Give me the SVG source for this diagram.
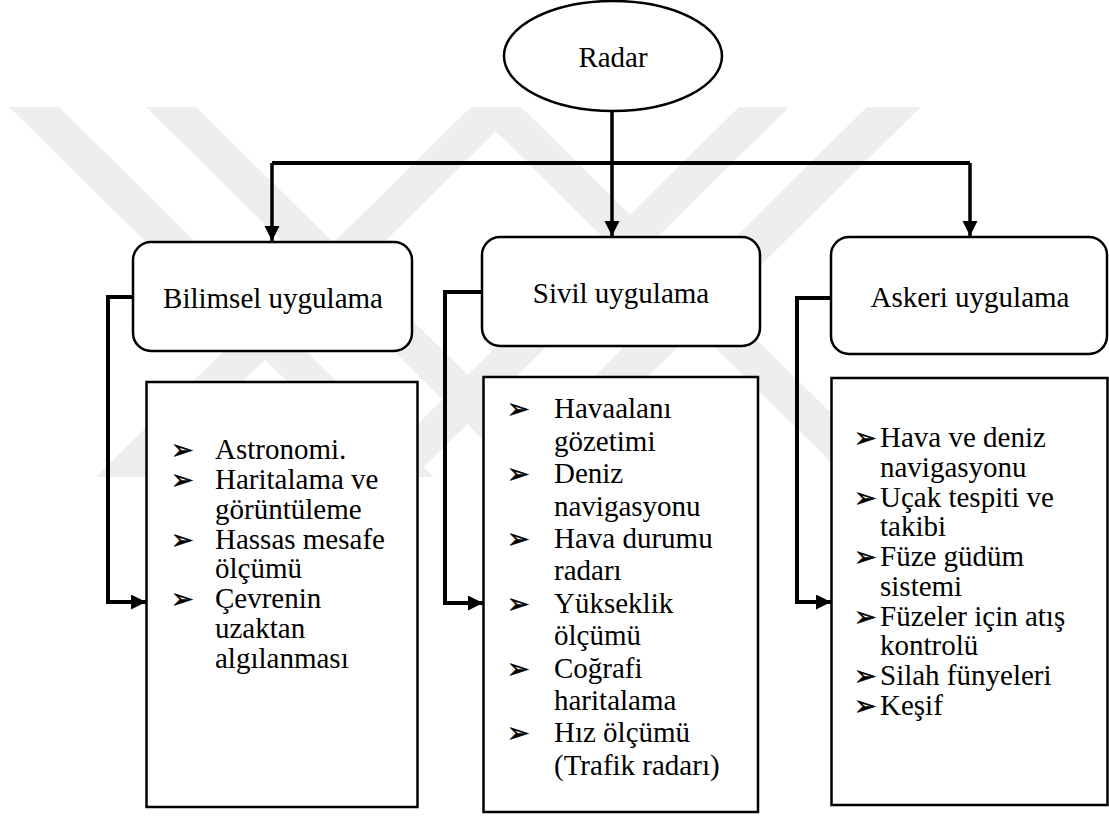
<svg xmlns="http://www.w3.org/2000/svg" width="1109" height="818" viewBox="0 0 1109 818">
  <style>
    .wm { fill: #eeeeee; }
    .shape { fill: #ffffff; stroke: #000000; stroke-width: 2.5; }
    .wire { fill: none; stroke: #000000; stroke-width: 4; }
    .stem { fill: none; stroke: #000000; stroke-width: 3.5; }
    .title { font-family: 'Liberation Serif', 'Times New Roman', serif; font-size: 29px; fill: #000000; text-anchor: middle; }
    .item { font-family: 'Liberation Serif', 'Times New Roman', serif; font-size: 29px; fill: #000000; }
    .bullet { font-family: 'DejaVu Sans', sans-serif; font-size: 27px; fill: #000000; stroke: #000000; stroke-width: 0.6; }
  </style>
  <defs>
    <marker id="arrow" markerUnits="userSpaceOnUse" markerWidth="16" markerHeight="16" refX="15" refY="7.5" orient="auto">
      <path d="M0,0 L15,7.5 L0,15 Z" fill="#000000"/>
    </marker>
    <clipPath id="wmClip">
      <rect x="0" y="107" width="1109" height="370"/>
    </clipPath>
  </defs>

  <rect x="0" y="0" width="1109" height="818" fill="#ffffff"/>

  <!-- faint background emblem: diagonal bars -->
  <g id="emblem" clip-path="url(#wmClip)">
    <polygon class="wm" points="9,107 59,107 434,477 384,477"/>
    <polygon class="wm" points="146,107 196,107 571,477 521,477"/>
    <polygon class="wm" points="471,107 521,107 146,477 96,477"/>
    <polygon class="wm" points="471,107 521,107 896,477 846,477"/>
    <polygon class="wm" points="739,107 789,107 414,477 364,477"/>
    <polygon class="wm" points="867,107 921,107 546,477 492,477"/>
  </g>

  <!-- connectors -->
  <g id="connectors">
    <path class="stem" d="M612,111 V163"/>
    <path class="wire" d="M272,163 H970"/>
    <path class="stem" d="M272,163 V241" marker-end="url(#arrow)"/>
    <path class="stem" d="M612,163 V236" marker-end="url(#arrow)"/>
    <path class="stem" d="M970,163 V236" marker-end="url(#arrow)"/>
    <path class="wire" d="M133,297 H108 V602 H146" marker-end="url(#arrow)"/>
    <path class="wire" d="M482,292 H445 V603 H483" marker-end="url(#arrow)"/>
    <path class="wire" d="M831,298 H797 V602 H831" marker-end="url(#arrow)"/>
  </g>

  <g id="radar">
    <ellipse class="shape" cx="613" cy="56" rx="109" ry="55"/>
    <text class="title" x="613" y="67">Radar</text>
  </g>

  <g id="bilimsel">
    <rect class="shape" x="133" y="242" width="279" height="109" rx="18" ry="18"/>
    <text class="title" x="273" y="308">Bilimsel uygulama</text>
  </g>

  <g id="sivil">
    <rect class="shape" x="482" y="237" width="278" height="109" rx="18" ry="18"/>
    <text class="title" x="621" y="303">Sivil uygulama</text>
  </g>

  <g id="askeri">
    <rect class="shape" x="831" y="237" width="276" height="117" rx="18" ry="18"/>
    <text class="title" x="970" y="307">Askeri uygulama</text>
  </g>

  <g id="bilimsel-list">
    <rect class="shape" x="146.5" y="382" width="271" height="425"/>
    <text class="bullet" x="171" y="459">➢</text>
    <text class="bullet" x="171" y="489">➢</text>
    <text class="bullet" x="171" y="549">➢</text>
    <text class="bullet" x="171" y="608">➢</text>
    <text class="item" x="215" y="459">Astronomi.</text>
    <text class="item" x="215" y="489">Haritalama ve</text>
    <text class="item" x="215" y="519">görüntüleme</text>
    <text class="item" x="215" y="549">Hassas mesafe</text>
    <text class="item" x="215" y="578">ölçümü</text>
    <text class="item" x="215" y="608">Çevrenin</text>
    <text class="item" x="215" y="638">uzaktan</text>
    <text class="item" x="215" y="668">algılanması</text>
  </g>

  <g id="sivil-list">
    <rect class="shape" x="483.5" y="377" width="274.5" height="435"/>
    <text class="bullet" x="507" y="418">➢</text>
    <text class="bullet" x="507" y="483">➢</text>
    <text class="bullet" x="507" y="548">➢</text>
    <text class="bullet" x="507" y="613">➢</text>
    <text class="bullet" x="507" y="678">➢</text>
    <text class="bullet" x="507" y="742">➢</text>
    <text class="item" x="554" y="418">Havaalanı</text>
    <text class="item" x="554" y="451">gözetimi</text>
    <text class="item" x="554" y="483">Deniz</text>
    <text class="item" x="554" y="516">navigasyonu</text>
    <text class="item" x="554" y="548">Hava durumu</text>
    <text class="item" x="554" y="580">radarı</text>
    <text class="item" x="554" y="613">Yükseklik</text>
    <text class="item" x="554" y="645">ölçümü</text>
    <text class="item" x="554" y="678">Coğrafi</text>
    <text class="item" x="554" y="710">haritalama</text>
    <text class="item" x="554" y="742">Hız ölçümü</text>
    <text class="item" x="554" y="775">(Trafik radarı)</text>
  </g>

  <g id="askeri-list">
    <rect class="shape" x="831.5" y="378" width="276" height="427"/>
    <text class="bullet" x="854" y="447">➢</text>
    <text class="bullet" x="854" y="507">➢</text>
    <text class="bullet" x="854" y="566">➢</text>
    <text class="bullet" x="854" y="626">➢</text>
    <text class="bullet" x="854" y="685">➢</text>
    <text class="bullet" x="854" y="715">➢</text>
    <text class="item" x="880" y="447">Hava ve deniz</text>
    <text class="item" x="880" y="477">navigasyonu</text>
    <text class="item" x="880" y="507">Uçak tespiti ve</text>
    <text class="item" x="880" y="536">takibi</text>
    <text class="item" x="880" y="566">Füze güdüm</text>
    <text class="item" x="880" y="596">sistemi</text>
    <text class="item" x="880" y="626">Füzeler için atış</text>
    <text class="item" x="880" y="655">kontrolü</text>
    <text class="item" x="880" y="685">Silah fünyeleri</text>
    <text class="item" x="880" y="715">Keşif</text>
  </g>
</svg>
